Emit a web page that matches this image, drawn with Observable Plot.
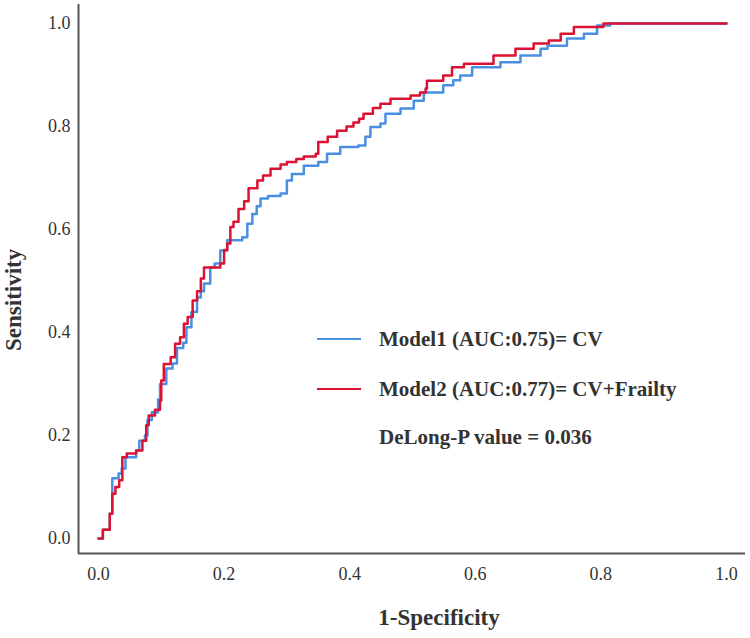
<!DOCTYPE html>
<html>
<head>
<meta charset="utf-8">
<script src="https://cdn.jsdelivr.net/npm/d3@7"></script>
<script src="https://cdn.jsdelivr.net/npm/@observablehq/plot@0.6"></script>
<style>
  body { margin: 0; background: #fff; }
  #wrap { position: relative; width: 750px; height: 638px; font-family: "Liberation Serif", "Times New Roman", serif; }
  .leg { position: absolute; left: 317px; font-weight: bold; font-size: 21px; color: #333; white-space: nowrap; }
  .leg .row { position: absolute; left: 0; display: flex; align-items: center; height: 24px; }
  .leg .sw { width: 44px; height: 2px; margin-right: 18px; }
  .leg .txt { line-height: 24px; }
</style>
</head>
<body>
<div id="wrap"></div>
<script>
// Model1 (CV) ROC curve
const fpr1 = [0,0.007,0.018,0.022,0.032,0.037,0.043,0.06,0.065,0.074,0.078,0.085,0.095,0.098,0.108,0.118,0.125,0.135,0.14,0.148,0.157,0.163,0.168,0.178,0.185,0.194,0.205,0.229,0.237,0.245,0.252,0.258,0.27,0.29,0.3,0.308,0.327,0.35,0.364,0.385,0.414,0.425,0.433,0.449,0.457,0.481,0.502,0.518,0.549,0.565,0.576,0.595,0.619,0.64,0.672,0.704,0.715,0.746,0.773,0.794,0.815,0.9,1.0];
const tpr1 = [0,0.017,0.048,0.117,0.126,0.136,0.158,0.171,0.19,0.2,0.23,0.245,0.27,0.3,0.33,0.34,0.37,0.38,0.41,0.44,0.468,0.48,0.495,0.526,0.534,0.559,0.579,0.585,0.611,0.63,0.645,0.66,0.665,0.67,0.695,0.708,0.724,0.731,0.747,0.76,0.763,0.78,0.799,0.806,0.825,0.835,0.85,0.866,0.88,0.89,0.899,0.915,0.915,0.925,0.938,0.951,0.957,0.971,0.98,0.996,1.0,1.0,1.0];
// Model2 (CV+Frailty) ROC curve
const fpr2 = [0,0.007,0.018,0.022,0.027,0.033,0.038,0.045,0.06,0.07,0.076,0.08,0.09,0.098,0.1,0.104,0.115,0.122,0.13,0.136,0.142,0.15,0.157,0.163,0.168,0.194,0.2,0.205,0.21,0.215,0.223,0.232,0.239,0.253,0.262,0.274,0.29,0.3,0.315,0.327,0.346,0.35,0.365,0.38,0.395,0.406,0.415,0.422,0.437,0.449,0.465,0.497,0.512,0.521,0.523,0.549,0.563,0.582,0.616,0.629,0.664,0.693,0.717,0.736,0.757,0.8,0.804,1.0];
const tpr2 = [0,0.017,0.048,0.087,0.1,0.113,0.158,0.165,0.171,0.19,0.22,0.239,0.25,0.268,0.307,0.339,0.352,0.378,0.391,0.417,0.43,0.462,0.48,0.505,0.526,0.534,0.56,0.573,0.605,0.615,0.64,0.655,0.68,0.695,0.705,0.718,0.726,0.731,0.737,0.742,0.747,0.77,0.78,0.792,0.8,0.808,0.815,0.825,0.836,0.844,0.854,0.86,0.866,0.874,0.889,0.899,0.915,0.922,0.922,0.938,0.951,0.961,0.967,0.98,0.993,0.993,1.0,1.0];

const xTicks = [0, 0.2, 0.4, 0.6, 0.8, 1.0];
const yTicks = [0, 0.2, 0.4, 0.6, 0.8, 1.0];
const xDomain = [-0.0318, 1.0303];
const yDomain = [-0.0291, 1.0369];
const colors = {m1: "#4a90e2", m2: "#dc1232"};
const legendItems = [
  {label: "Model1 (AUC:0.75)= CV", color: colors.m1},
  {label: "Model2 (AUC:0.77)= CV+Frailty", color: colors.m2}
];
const pText = "DeLong-P value = 0.036";

const d1 = fpr1.map((x, i) => ({x, y: tpr1[i]}));
const d2 = fpr2.map((x, i) => ({x, y: tpr2[i]}));

const chart = Plot.plot({
  width: 750,
  height: 638,
  marginLeft: 78,
  marginRight: 5,
  marginTop: 4,
  marginBottom: 85,
  style: {fontFamily: "'Liberation Serif', 'Times New Roman', serif", fontSize: "18px", color: "#333", background: "#fff"},
  x: {domain: xDomain},
  y: {domain: yDomain},
  marks: [
    Plot.axisX({ticks: xTicks, tickSize: 0, tickPadding: 14, tickFormat: d3.format(".1f"), label: null}),
    Plot.axisY({ticks: yTicks, tickSize: 0, tickPadding: 8, tickFormat: d3.format(".1f"), label: null}),
    Plot.line(d1, {x: "x", y: "y", curve: "step-after", stroke: colors.m1, strokeWidth: 2.5}),
    Plot.line(d2, {x: "x", y: "y", curve: "step-after", stroke: colors.m2, strokeWidth: 2.5}),
    Plot.ruleX([xDomain[0]], {stroke: "#555", strokeWidth: 2}),
    Plot.ruleY([yDomain[0]], {stroke: "#555", strokeWidth: 2}),
    Plot.text(["1-Specificity"], {frameAnchor: "bottom", dx: 27, dy: 64, fontSize: 23, fontWeight: "bold", fill: "#333", lineAnchor: "middle"}),
    Plot.text(["Sensitivity"], {frameAnchor: "left", rotate: -90, dx: -65, dy: 72, fontSize: 23, fontWeight: "bold", fill: "#333", lineAnchor: "middle"})
  ]
});

const wrap = document.getElementById("wrap");
wrap.appendChild(chart);

const leg = document.createElement("div");
leg.className = "leg";
leg.style.top = "0px";
const tops = [327, 377];
legendItems.forEach((it, i) => {
  const row = document.createElement("div");
  row.className = "row";
  row.style.top = tops[i] + "px";
  const sw = document.createElement("div");
  sw.className = "sw";
  sw.style.background = it.color;
  const t = document.createElement("span");
  t.className = "txt";
  t.textContent = it.label;
  row.appendChild(sw); row.appendChild(t);
  leg.appendChild(row);
});
const prow = document.createElement("div");
prow.className = "row";
prow.style.top = "425px";
prow.style.left = "62px";
prow.textContent = pText;
leg.appendChild(prow);
wrap.appendChild(leg);
</script>
</body>
</html>
